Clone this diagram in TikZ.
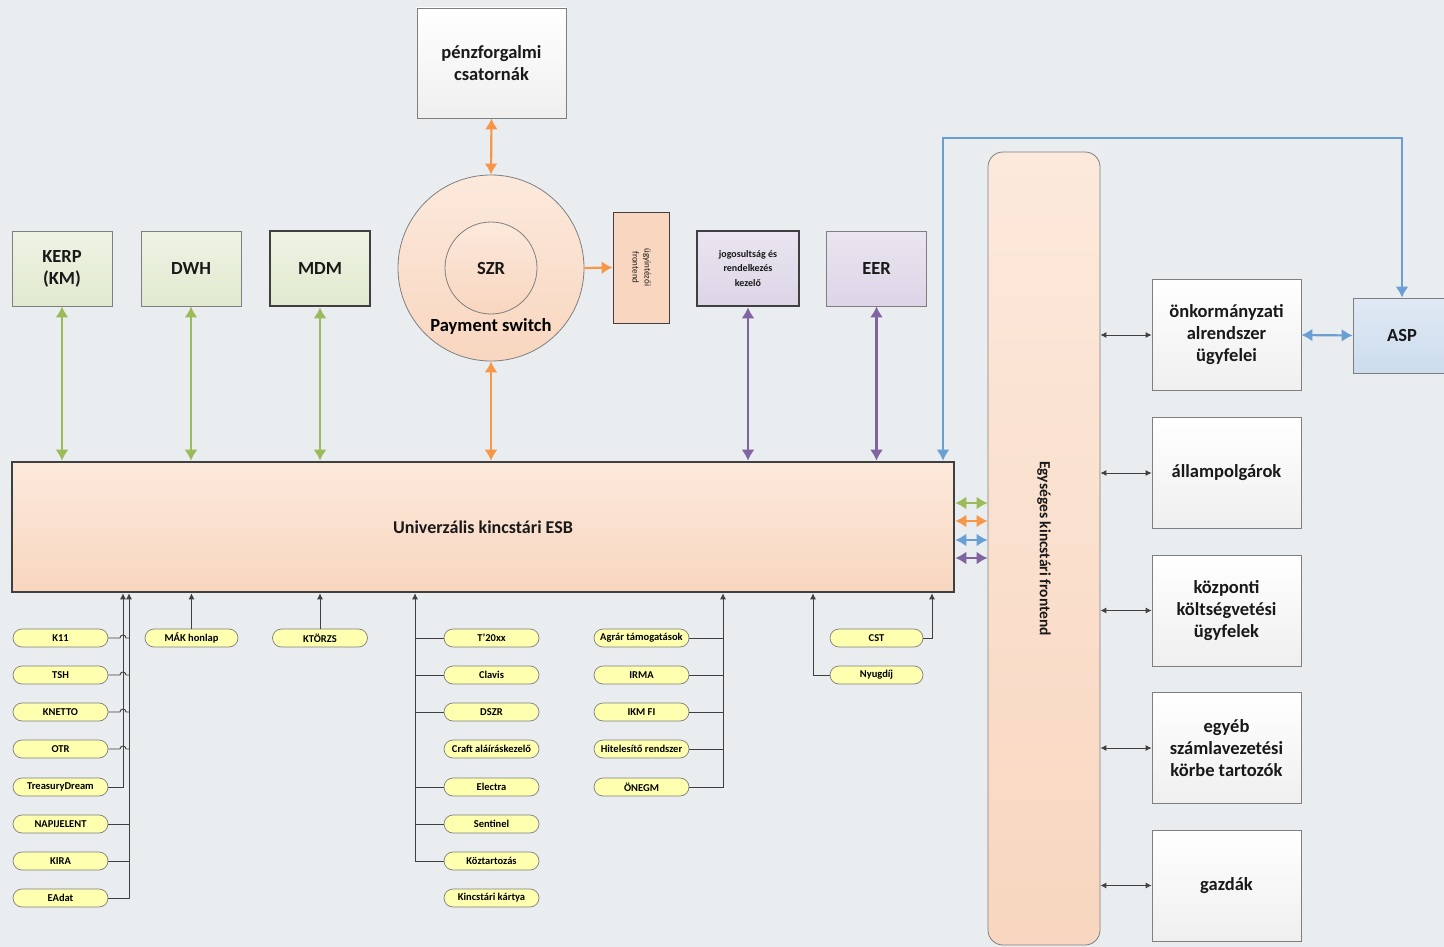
\documentclass[tikz,border=0pt]{standalone}
\usepackage{fontspec}
\setmainfont{Carlito}
\usetikzlibrary{arrows.meta}
\definecolor{bgc}{HTML}{E9EDF0}
\definecolor{grn}{HTML}{9BBB59}
\definecolor{orn}{HTML}{F79646}
\definecolor{blu}{HTML}{6A9FD4}
\definecolor{pur}{HTML}{8064A2}
\definecolor{edge}{HTML}{7F7F7F}
\definecolor{dark}{HTML}{404040}
\definecolor{pillc}{HTML}{FFFFB0}
\definecolor{gtop}{HTML}{EEF3E3}
\definecolor{gbot}{HTML}{E1E9CF}
\definecolor{ptop}{HTML}{EAE5F0}
\definecolor{pbot}{HTML}{DDD5E7}
\definecolor{wbot}{HTML}{EFEFEF}
\definecolor{atop}{HTML}{E0E9F4}
\definecolor{abot}{HTML}{CCDCEE}
\definecolor{otop}{HTML}{FCE9DC}
\definecolor{obot}{HTML}{F8D6BF}
\tikzset{
  bigtip/.tip={Latex[length=11pt,width=13pt]},
  smtip/.tip={Latex[length=6pt,width=6pt]},
  base/.style={draw=edge, line width=0.8pt, align=center, text=black!90, inner sep=2pt,
    font=\bfseries\fontsize{18.5}{22}\selectfont},
  heavy/.style={draw=dark, line width=2.6pt},
  gbox/.style={base, minimum width=100pt, minimum height=75pt, top color=gtop, bottom color=gbot},
  pbox/.style={base, minimum width=100pt, minimum height=75pt, top color=ptop, bottom color=pbot},
  wbox/.style={base, minimum width=149pt, minimum height=111pt, top color=white, bottom color=wbot},
  abox/.style={base, minimum width=98pt, minimum height=75pt, top color=atop, bottom color=abot},
  circ/.style={base, circle, top color=otop, bottom color=obot},
  pill/.style={draw=edge, line width=0.7pt, fill=pillc, rounded corners=9pt, minimum width=95pt,
    minimum height=18pt, inner sep=1pt, font=\bfseries\fontsize{10.5}{12}\selectfont},
  dbl/.style={line width=2.2pt, bigtip-bigtip},
  one/.style={line width=2.2pt, -bigtip},
  thin/.style={draw=dark, line width=0.9pt, smtip-smtip},
  up/.style={draw=dark, line width=0.9pt, -smtip},
  bus/.style={draw=dark, line width=0.9pt}
}
\begin{document}
\begin{tikzpicture}[x=1pt,y=-1pt]
\fill[bgc] (0,0) rectangle (1444,947);
\useasboundingbox (0,0) rectangle (1444,947);

% upper systems
\node[gbox] (kerp) at (62,268.5) {KERP\\(KM)};
\node[gbox] (dwh) at (191,268.5) {DWH};
\node[gbox,heavy] (mdm) at (320,268.5) {MDM};
\node[wbox,minimum height=110pt] (penz) at (491.5,63) {pénzforgalmi\\csatornák};
\node[circ,minimum size=186pt] (ps) at (491,268) {};
\node[circ,minimum size=92pt] (szr) at (491,268) {SZR};
\node[font=\bfseries\fontsize{18.5}{22}\selectfont] (pslab) at (491,326) {Payment switch};
\node[base,font=\fontsize{9}{12}\selectfont,draw=dark,fill=obot,minimum width=56pt,minimum height=111pt] (ugy) at (641,267.5)
  {\rotatebox{-90}{\begin{tabular}{@{}c@{}}ügyintézői\\frontend\end{tabular}}};
\node[pbox,heavy,font=\bfseries\fontsize{10}{14.5}\selectfont,minimum width=102pt] (jog) at (748,268.5) {jogosultság és\\rendelkezés\\kezelő};
\node[pbox] (eer) at (876.5,268.5) {EER};

% bus and frontend
\node[base,heavy,minimum width=942pt,minimum height=130pt,top color=otop,bottom color=obot,
  font=\bfseries\fontsize{18}{22}\selectfont] (esb) at (483,527) {Univerzális kincstári ESB};
\node[base,rounded corners=15pt,minimum width=112pt,minimum height=793pt,top color=otop,bottom color=obot,
  font=\bfseries\fontsize{15.5}{18}\selectfont] (front) at (1044,548.5) {\rotatebox{-90}{Egységes kincstári frontend}};

% clients
\foreach \n/\y/\t in {onk/335/{önkormányzati\\alrendszer\\ügyfelei}, allam/473/állampolgárok,
    kozp/610.5/{központi\\költségvetési\\ügyfelek}, egyeb/748/{egyéb\\számlavezetési\\körbe tartozók}, gazd/885.5/gazdák}{
  \node[wbox] (\n) at (1226.5,\y) {\t};
  \draw[thin] (\n.west -| front.east) -- (\n.west);
}
\node[abox] (asp) at (1402,335.5) {ASP};

% colored links
\foreach \n in {kerp,dwh,mdm} \draw[dbl,grn] (\n.south) -- (\n.south |- esb.north);
\draw[dbl,orn] (penz.south) -- (ps.north);
\draw[dbl,orn] (ps.south) -- (ps.south |- esb.north);
\draw[one,orn] (ps.east) -- (ugy.west);
\foreach \n in {jog,eer} \draw[dbl,pur] (\n.south) -- (\n.south |- esb.north);
\coordinate (bt) at (943,138);
\draw[dbl,blu] (esb.north -| bt) -- (bt) -| (asp.north);
\draw[dbl,blu] (onk.east) -- (asp.west);
\foreach \c/\dy in {grn/24,orn/6,blu/-13,pur/-31}
  \draw[dbl,\c] ([yshift=\dy pt]esb.east) -- ([yshift=\dy pt]esb.east -| front.west);

% lower systems
\coordinate (b1) at (123,0); \coordinate (b2) at (129,0); \coordinate (b3) at (415,0);
\coordinate (b4) at (723,0); \coordinate (b5) at (932,0); \coordinate (b6) at (813,0);
\foreach \n/\y/\t in {k11/638/K11, tsh/675/TSH, knetto/712/KNETTO, otr/749/OTR, td/787/TreasuryDream,
    napi/824/NAPIJELENT, kira/861/KIRA, eadat/898/EAdat}
  \node[pill] (\n) at (60.5,\y) {\t};
\foreach \n/\y/\t in {t20/638/T’20xx, clavis/675/Clavis, dszr/712/DSZR, craft/749/Craft aláíráskezelő,
    electra/787/Electra, sentinel/824/Sentinel, koz/861/Köztartozás, kartya/898/Kincstári kártya}
  \node[pill] (\n) at (491.5,\y) {\t};
\foreach \n/\y/\t in {agrar/638/Agrár támogatások, irma/675/IRMA, ikm/712/IKM FI, hit/749/Hitelesítő rendszer, onegm/787/ÖNEGM}
  \node[pill] (\n) at (641.5,\y) {\t};
\node[pill,minimum width=93pt] (mak) at (191.5,638) {MÁK honlap};
\node[pill] (ktorzs) at (320,638) {KTÖRZS};
\node[pill,minimum width=93pt] (cst) at (876.5,638) {CST};
\node[pill,minimum width=93pt] (nyug) at (876.5,675) {Nyugdíj};

\foreach \n in {k11,tsh,knetto,otr}
  \draw[bus] (\n.east) -- ([xshift=-3pt]\n.east -| b1) arc[start angle=180,end angle=0,radius=3pt] -- (\n.east -| b2);
\foreach \n in {napi,kira} \draw[bus] (\n.east) -- (\n.east -| b2);
\draw[up] (td.east) -| (esb.south -| b1);
\draw[up] (eadat.east) -| (esb.south -| b2);
\draw[up] (mak.north) -- (mak.north |- esb.south);
\draw[up] (ktorzs.north) -- (ktorzs.north |- esb.south);
\foreach \n in {t20,clavis,dszr,electra,sentinel} \draw[bus] (\n.west) -- (\n.west -| b3);
\draw[up] (koz.west) -| (esb.south -| b3);
\foreach \n in {agrar,irma,ikm,hit} \draw[bus] (\n.east) -- (\n.east -| b4);
\draw[up] (onegm.east) -| (esb.south -| b4);
\draw[up] (cst.east) -| (esb.south -| b5);
\draw[up] (nyug.west) -| (esb.south -| b6);
\end{tikzpicture}
\end{document}
